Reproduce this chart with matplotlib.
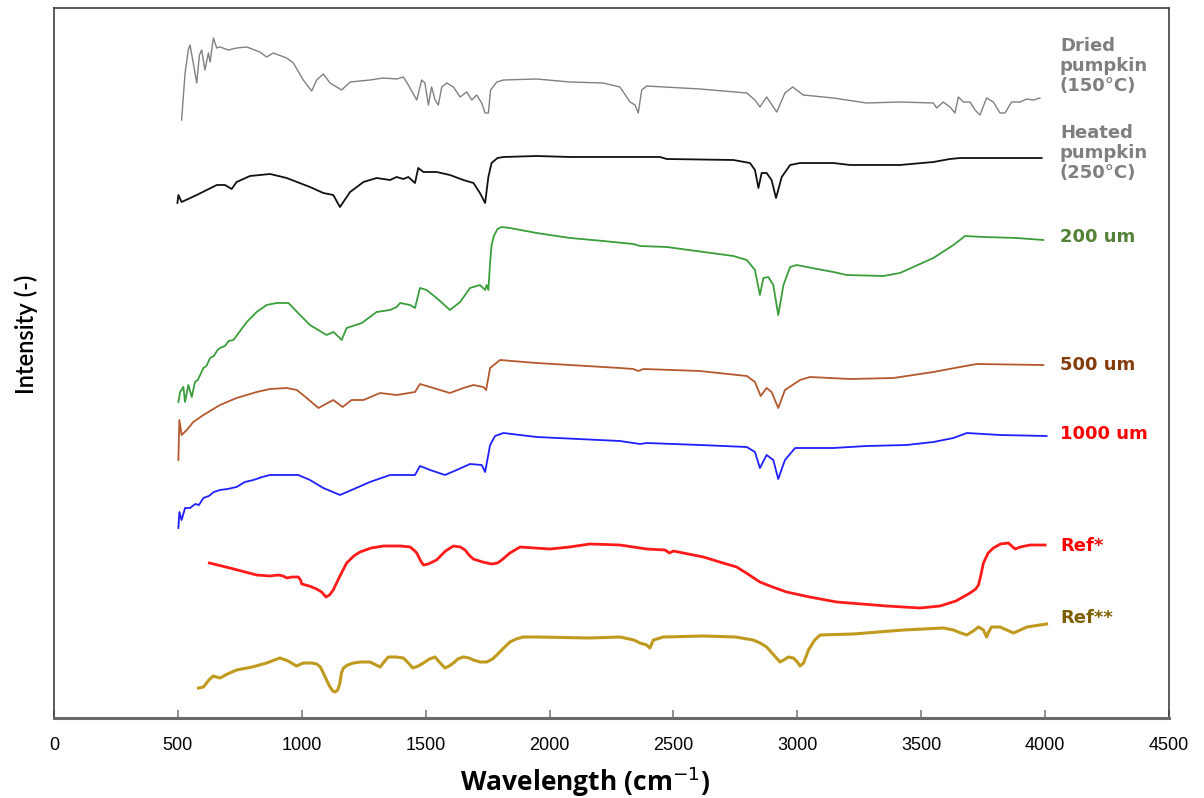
import numpy as np
import matplotlib
matplotlib.use("Agg")
import matplotlib.pyplot as plt

# FTIR spectra as (wavenumber, intensity a.u.) pairs, stacked offsets
dried = [(515, 598), (529, 645), (542, 668), (549, 673), (562, 655), (576, 635), (587, 663),
         (596, 668), (609, 648), (623, 665), (630, 656), (643, 680), (657, 670), (670, 671),
         (704, 668), (737, 670), (778, 671), (831, 666), (858, 661), (885, 665), (939, 660),
         (966, 655), (1006, 638), (1040, 627), (1060, 638), (1087, 644), (1114, 635),
         (1161, 628), (1195, 636), (1275, 638), (1329, 640), (1383, 639), (1410, 641),
         (1430, 633), (1464, 618), (1484, 638), (1497, 635), (1511, 613), (1524, 631),
         (1538, 618), (1551, 613), (1565, 631), (1585, 635), (1612, 631), (1639, 621),
         (1666, 626), (1686, 618), (1706, 623), (1726, 615), (1740, 605), (1753, 605),
         (1762, 628), (1787, 636), (1814, 638), (1948, 639), (2083, 636), (2217, 635),
         (2284, 631), (2325, 616), (2345, 613), (2358, 605), (2372, 628), (2392, 632),
         (2607, 629), (2796, 625), (2829, 618), (2849, 611), (2876, 621), (2917, 606),
         (2950, 625), (2981, 631), (3024, 623), (3145, 620), (3280, 615), (3414, 616),
         (3549, 615), (3562, 610), (3589, 616), (3616, 611), (3636, 605), (3650, 621),
         (3670, 616), (3697, 616), (3717, 608), (3737, 603), (3764, 620), (3791, 616),
         (3818, 605), (3838, 605), (3865, 616), (3899, 616), (3926, 619), (3953, 618),
         (3979, 620)]

heated = [(498, 515), (502, 523), (515, 516), (576, 523), (657, 533), (690, 533), (717, 529),
          (737, 536), (791, 542), (872, 544), (939, 540), (1033, 531), (1087, 525), (1127, 523),
          (1154, 511), (1195, 526), (1249, 536), (1302, 540), (1356, 538), (1383, 541),
          (1410, 539), (1430, 541), (1457, 535), (1470, 550), (1491, 546), (1544, 546),
          (1598, 543), (1652, 538), (1693, 535), (1719, 525), (1740, 515), (1753, 541),
          (1766, 555), (1790, 560), (1814, 561), (1948, 562), (2083, 561), (2284, 561),
          (2446, 561), (2473, 559), (2742, 558), (2809, 555), (2829, 548), (2843, 530),
          (2856, 545), (2876, 545), (2896, 538), (2914, 520), (2937, 541), (2971, 553),
          (3011, 555), (3145, 555), (3213, 553), (3414, 553), (3549, 556), (3616, 559),
          (3657, 560), (3986, 560)]

um200 = [(502, 316), (509, 326), (522, 331), (529, 316), (542, 333), (556, 321), (569, 336),
         (580, 338), (590, 343), (603, 350), (615, 352), (630, 360), (645, 362), (660, 368),
         (670, 370), (690, 372), (705, 377), (724, 378), (745, 385), (760, 390), (778, 396),
         (818, 406), (858, 413), (899, 415), (946, 415), (993, 403), (1033, 393), (1100, 383),
         (1127, 386), (1141, 383), (1161, 378), (1181, 390), (1242, 395), (1302, 406),
         (1356, 408), (1383, 411), (1397, 415), (1437, 413), (1457, 410), (1477, 430),
         (1504, 428), (1544, 420), (1598, 408), (1639, 416), (1679, 430), (1719, 433),
         (1740, 428), (1746, 433), (1753, 428), (1760, 455), (1766, 473), (1775, 482),
         (1790, 489), (1807, 491), (1840, 490), (1948, 485), (2083, 480), (2217, 477),
         (2338, 474), (2365, 472), (2473, 471), (2742, 462), (2796, 458), (2829, 448),
         (2849, 423), (2863, 440), (2883, 441), (2903, 433), (2923, 403), (2944, 433),
         (2971, 451), (2997, 453), (3038, 451), (3145, 446), (3199, 443), (3347, 442),
         (3414, 445), (3549, 460), (3630, 473), (3677, 482), (3751, 481), (3885, 480),
         (3993, 478)]

um500 = [(502, 258), (506, 298), (515, 283), (536, 288), (562, 296), (603, 303), (670, 313),
         (737, 320), (818, 326), (872, 329), (939, 330), (980, 328), (1020, 320), (1067, 310),
         (1127, 318), (1165, 311), (1201, 318), (1249, 318), (1316, 325), (1383, 323),
         (1457, 326), (1477, 334), (1531, 330), (1598, 325), (1652, 330), (1693, 333),
         (1733, 331), (1744, 328), (1760, 350), (1800, 358), (1948, 355), (2284, 350),
         (2338, 349), (2358, 347), (2379, 349), (2607, 347), (2796, 342), (2829, 336),
         (2852, 322), (2876, 330), (2896, 326), (2923, 310), (2950, 328), (3011, 338),
         (3051, 341), (3213, 339), (3388, 340), (3549, 346), (3657, 351), (3724, 354),
         (3993, 353)]

um1000 = [(502, 190), (506, 206), (515, 198), (529, 210), (549, 210), (570, 214), (585, 213),
          (603, 220), (625, 222), (645, 226), (670, 228), (700, 229), (737, 231), (770, 236),
          (805, 238), (840, 241), (872, 243), (986, 243), (1033, 238), (1087, 230), (1154, 223),
          (1201, 228), (1275, 236), (1356, 243), (1457, 243), (1477, 252), (1518, 248),
          (1578, 243), (1625, 248), (1679, 254), (1726, 253), (1740, 246), (1760, 273),
          (1780, 282), (1814, 285), (1948, 281), (2284, 277), (2338, 275), (2365, 274),
          (2392, 275), (2607, 273), (2796, 271), (2829, 266), (2849, 250), (2876, 263),
          (2903, 258), (2923, 239), (2950, 258), (2991, 270), (3145, 270), (3280, 272),
          (3441, 273), (3549, 276), (3630, 280), (3684, 285), (3818, 283), (4006, 282)]

ref1 = [(627, 155), (710, 150), (818, 143), (872, 142), (905, 143), (925, 142), (939, 140),
        (960, 141), (986, 141), (995, 138), (1000, 134), (1030, 132), (1060, 129), (1080, 126),
        (1098, 121), (1112, 123), (1127, 128), (1150, 140), (1181, 155), (1210, 162),
        (1235, 166), (1280, 170), (1329, 172), (1400, 172), (1437, 171), (1452, 168),
        (1464, 165), (1480, 157), (1491, 153), (1510, 154), (1544, 158), (1580, 167),
        (1612, 172), (1640, 171), (1659, 168), (1675, 163), (1692, 159), (1730, 156),
        (1766, 154), (1790, 155), (1807, 158), (1840, 165), (1881, 171), (1940, 170),
        (2002, 169), (2080, 171), (2163, 174), (2284, 173), (2392, 169), (2466, 168),
        (2484, 165), (2500, 167), (2560, 164), (2621, 161), (2700, 155), (2755, 151),
        (2800, 144), (2849, 136), (2900, 131), (2957, 126), (3050, 121), (3159, 116),
        (3260, 114), (3361, 112), (3495, 110), (3576, 112), (3640, 117), (3697, 125),
        (3720, 129), (3731, 133), (3740, 142), (3751, 155), (3770, 165), (3791, 170),
        (3820, 174), (3852, 175), (3865, 172), (3879, 169), (3900, 171), (3939, 173),
        (4000, 173)]

ref2 = [(583, 30), (603, 31), (625, 38), (643, 42), (655, 41), (670, 40), (700, 44), (737, 48),
        (800, 51), (858, 55), (890, 58), (912, 60), (945, 57), (979, 52), (1006, 55),
        (1040, 55), (1060, 54), (1075, 51), (1087, 45), (1100, 38), (1114, 31), (1125, 27),
        (1134, 26), (1145, 28), (1154, 35), (1160, 45), (1168, 50), (1185, 53), (1208, 55),
        (1240, 56), (1275, 56), (1300, 53), (1316, 51), (1335, 57), (1349, 61), (1380, 61),
        (1410, 60), (1430, 55), (1448, 50), (1470, 52), (1491, 55), (1515, 59), (1538, 61),
        (1555, 56), (1578, 50), (1595, 52), (1612, 55), (1630, 59), (1652, 61), (1675, 60),
        (1692, 58), (1720, 56), (1746, 56), (1770, 59), (1787, 63), (1815, 70), (1840, 76),
        (1865, 79), (1894, 81), (1950, 81), (2163, 80), (2284, 81), (2340, 78), (2365, 75),
        (2392, 73), (2405, 70), (2419, 78), (2459, 81), (2621, 82), (2750, 81), (2822, 78),
        (2850, 75), (2876, 71), (2905, 63), (2930, 56), (2945, 58), (2964, 61), (2984, 60),
        (3000, 56), (3011, 52), (3025, 55), (3045, 68), (3070, 78), (3092, 83), (3226, 84),
        (3428, 88), (3589, 90), (3630, 88), (3660, 85), (3684, 83), (3710, 87), (3731, 91),
        (3751, 88), (3764, 81), (3772, 86), (3784, 91), (3818, 91), (3845, 88), (3872, 85),
        (3900, 88), (3926, 91), (4006, 94)]

labels = ['Dried\npumpkin\n(150\u00b0C)', 'Heated\npumpkin\n(250\u00b0C)', '200 um', '500 um',
          '1000 um', 'Ref*', 'Ref**']
label_y = [652, 565, 481, 353, 284, 172, 100]
label_colors = ['#7f7f7f', '#7f7f7f', '#538135', '#843c0c', '#ff0000', '#ff0000', '#7f6000']

line_styles = [(dried, '#808080', 1.0), (heated, '#111111', 1.3), (um200, '#3a9e3a', 1.3),
               (um500, '#b4582e', 1.3), (um1000, '#1f1fff', 1.3), (ref1, '#ff1a1a', 2.0),
               (ref2, '#c09a1e', 2.2)]

fig = plt.figure(figsize=(12.04, 7.98), dpi=100)
ax = fig.add_axes([54 / 1204, 80 / 798, 1115 / 1204, 710 / 798])

for data, col, lw in line_styles:
    wn, inten = zip(*data)
    ax.plot(wn, inten, color=col, lw=lw, solid_joinstyle='round')

for lab, ly, lc in zip(labels, label_y, label_colors):
    ax.text(4060, ly, lab, color=lc, fontsize=13, fontweight='bold', va='center', ha='left',
            linespacing=1.12, family='DejaVu Sans')

ax.set_xlim(0, 4500)
ax.set_ylim(0, 710)
ax.set_xticks(np.arange(0, 4501, 500))
ax.set_yticks([])
ax.tick_params(axis='x', direction='in', length=6, width=1.2, color='#7f7f7f', pad=14,
               labelsize=13)
for lbl in ax.get_xticklabels():
    lbl.set_family('Liberation Sans')
for s in ['left', 'top', 'right']:
    ax.spines[s].set_color('#404040')
    ax.spines[s].set_linewidth(1.2)
ax.spines['bottom'].set_color('#6a6a6a')
ax.spines['bottom'].set_linewidth(2.2)

fig.text(585 / 1204, 1 - 782 / 798, 'Wavelength (cm$^{-1}$)', ha='center', va='center',
         fontsize=19, fontweight='bold', family='Open Sans')
fig.text(26 / 1204, 1 - 334 / 798, 'Intensity (-)', ha='center', va='center', rotation=90,
         fontsize=17, fontweight='semibold', family='Lato')

fig.savefig('out.png', dpi=100)
